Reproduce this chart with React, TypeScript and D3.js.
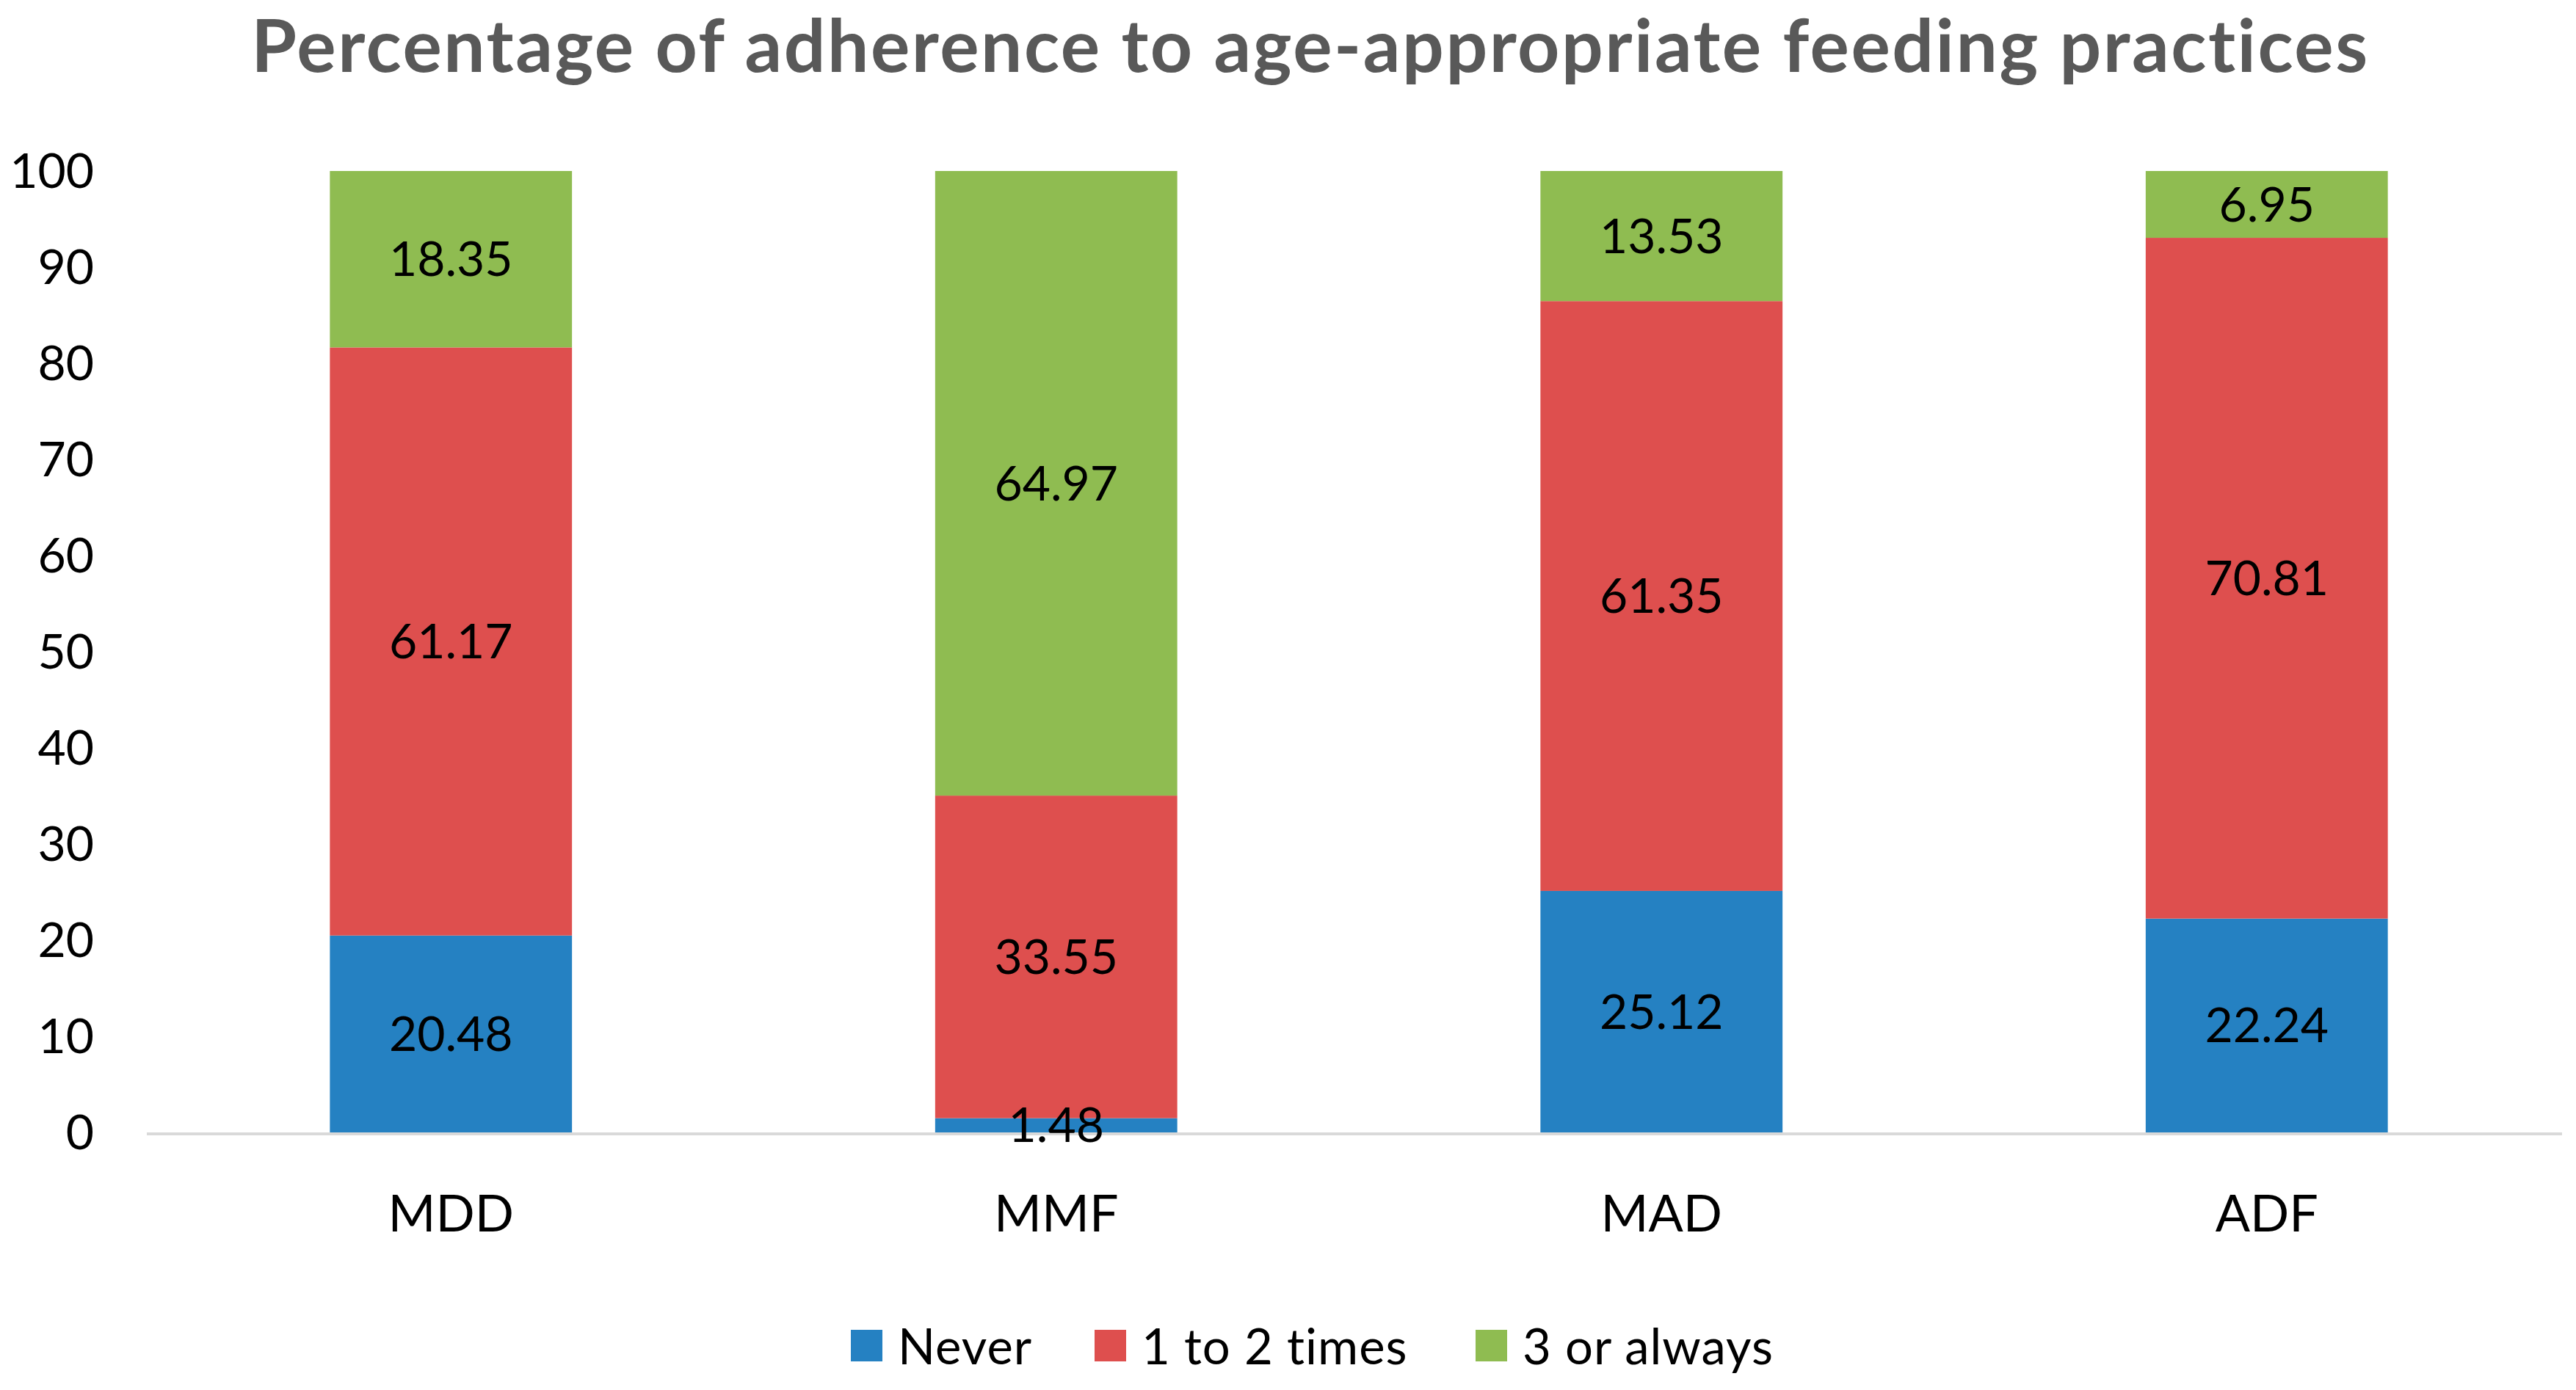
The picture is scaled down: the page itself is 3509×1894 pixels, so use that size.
import * as d3 from "d3";
import { useEffect, useRef } from "react";

const categories = ["MDD", "MMF", "MAD", "ADF"];
const seriesNames = ["Never", "1 to 2 times", "3 or always"];
const never = [20.48, 1.48, 25.12, 22.24];
const oneToTwo = [61.17, 33.55, 61.35, 70.81];
const threeOrAlways = [18.35, 64.97, 13.53, 6.95];
const yTicks = [0, 10, 20, 30, 40, 50, 60, 70, 80, 90, 100];
const colors = ["#2581C2", "#DE4F4E", "#8FBC51"];

const W = 3509;
const H = 1894;
const FONT = "Lato, 'Open Sans', sans-serif";

export default function App() {
    const ref = useRef<SVGSVGElement | null>(null);

    useEffect(() => {
        if (!ref.current) return;
        const svg = d3.select(ref.current);
        svg.selectAll("*").remove();

        const rows = categories.map((c, i) => ({
            cat: c,
            "Never": never[i],
            "1 to 2 times": oneToTwo[i],
            "3 or always": threeOrAlways[i],
        }));

        const x = d3
            .scaleBand()
            .domain(categories)
            .range([202, 3500])
            .paddingInner(0.6)
            .paddingOuter(0.3);
        const y = d3.scaleLinear().domain([0, 100]).range([1543, 233]);

        const stack = d3.stack<any>().keys(seriesNames);
        const layers = stack(rows);

        svg.append("rect")
            .attr("width", W)
            .attr("height", H)
            .attr("fill", "#ffffff");

        // title
        svg.append("text")
            .attr("x", 1785)
            .attr("y", 98)
            .attr("text-anchor", "middle")
            .attr("font-family", FONT)
            .attr("font-weight", "bold")
            .attr("font-size", 100)
            .attr("letter-spacing", 2.5)
            .attr("fill", "#595959")
            .text("Percentage of adherence to age-appropriate feeding practices");

        // y tick labels
        svg.append("g")
            .selectAll("text")
            .data(yTicks)
            .join("text")
            .attr("x", 128)
            .attr("y", (d) => y(d))
            .attr("dy", "0.35em")
            .attr("text-anchor", "end")
            .attr("font-family", FONT)
            .attr("font-size", 66)
            .attr("fill", "#000")
            .text((d) => d);

        // bars
        layers.forEach((layer, li) => {
            const g = svg.append("g").attr("fill", colors[li]);
            g.selectAll("rect")
                .data(layer)
                .join("rect")
                .attr("x", (d: any) => x(d.data.cat)!)
                .attr("width", x.bandwidth())
                .attr("y", (d) => y(d[1]))
                .attr("height", (d) => y(d[0]) - y(d[1]));
        });

        // baseline
        svg.append("line")
            .attr("x1", 200)
            .attr("x2", 3490)
            .attr("y1", y(0) + 2)
            .attr("y2", y(0) + 2)
            .attr("stroke", "#D9D9D9")
            .attr("stroke-width", 4);

        // data labels
        layers.forEach((layer) => {
            svg.append("g")
                .selectAll("text")
                .data(layer)
                .join("text")
                .attr("x", (d: any) => x(d.data.cat)! + x.bandwidth() / 2)
                .attr("y", (d) => y((d[0] + d[1]) / 2))
                .attr("dy", "0.35em")
                .attr("text-anchor", "middle")
                .attr("font-family", FONT)
                .attr("font-size", 66)
                .attr("fill", "#000")
                .text((d) => (d[1] - d[0]).toFixed(2));
        });

        // category labels
        svg.append("g")
            .selectAll("text")
            .data(categories)
            .join("text")
            .attr("x", (d) => x(d)! + x.bandwidth() / 2)
            .attr("y", 1678)
            .attr("text-anchor", "middle")
            .attr("font-family", FONT)
            .attr("font-size", 70)
            .attr("fill", "#000")
            .text((d) => d);

        // legend
        const legendX = [1159, 1491, 2010];
        const lg = svg.append("g");
        seriesNames.forEach((name, i) => {
            lg.append("rect")
                .attr("x", legendX[i])
                .attr("y", 1812)
                .attr("width", 43)
                .attr("height", 43)
                .attr("fill", colors[i]);
            lg.append("text")
                .attr("x", legendX[i] + 64)
                .attr("y", 1859)
                .attr("font-family", FONT)
                .attr("font-size", 67)
                .attr("letter-spacing", 1)
                .attr("fill", "#000")
                .text(name);
        });
    }, []);

    return (
        <svg
            ref={ref}
            width={W}
            height={H}
            style={{ position: "absolute", left: 0, top: 0, display: "block" }}
        ></svg>
    );
}
